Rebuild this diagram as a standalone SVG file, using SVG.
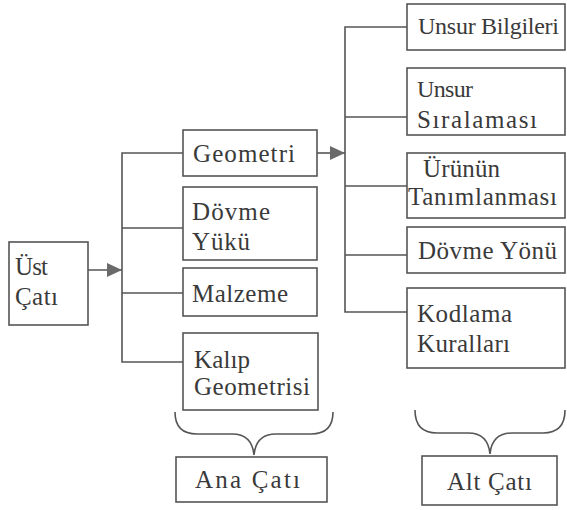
<svg xmlns="http://www.w3.org/2000/svg" width="567" height="510" viewBox="0 0 567 510">
<style>
.box{fill:#fff;stroke:#555;stroke-width:1.6}
.t{font-family:"Liberation Serif","Tinos","DejaVu Serif",serif;font-size:25px;fill:#3a3a3a}
.s{font-size:24px}
.ln{fill:none;stroke:#555;stroke-width:1.6}
.br{fill:none;stroke:#555;stroke-width:1.6}
</style>
<defs>
<marker id="ah" viewBox="0 0 10 10" refX="10" refY="5" markerWidth="15" markerHeight="14" markerUnits="userSpaceOnUse" orient="auto" preserveAspectRatio="none">
<path d="M0,0 L10,5 L0,10 z" fill="#6a6a6a"/>
</marker>
</defs>
<rect width="567" height="510" fill="#fff"/>
<g id="connectors">
<line class="ln" x1="88" y1="270" x2="122" y2="270" marker-end="url(#ah)"/>
<path class="ln" d="M183,153 H122 V362 H183 M122,228 H183 M122,293 H183"/>
<line class="ln" x1="317" y1="153" x2="345" y2="153" marker-end="url(#ah)"/>
<path class="ln" d="M407,27 H345 V312 H407 M345,117 H407 M345,186 H407 M345,255 H407"/>
</g>
<g id="ust-cati">
<rect class="box" x="9" y="242" width="79" height="83"/>
<text class="t" x="15" y="275" textLength="33" lengthAdjust="spacing">Üst</text>
<text class="t" x="15" y="305" textLength="43" lengthAdjust="spacing">Çatı</text>
</g>
<g id="geometri">
<rect class="box" x="183" y="130" width="134" height="46"/>
<text class="t" x="193" y="162" textLength="102" lengthAdjust="spacing">Geometri</text>
</g>
<g id="dovme-yuku">
<rect class="box" x="183" y="187" width="134" height="73"/>
<text class="t" x="192" y="220" textLength="78" lengthAdjust="spacing">Dövme</text>
<text class="t" x="192" y="250" textLength="58" lengthAdjust="spacing">Yükü</text>
</g>
<g id="malzeme">
<rect class="box" x="183" y="268" width="134" height="48"/>
<text class="t" x="192" y="302" textLength="96" lengthAdjust="spacing">Malzeme</text>
</g>
<g id="kalip-geometrisi">
<rect class="box" x="183" y="333" width="135" height="77"/>
<text class="t" x="194" y="368" textLength="56" lengthAdjust="spacing">Kalıp</text>
<text class="t" x="194" y="395" textLength="116" lengthAdjust="spacing">Geometrisi</text>
</g>
<g id="ana-cati">
<path class="br" d="M175,412 Q175,434 197,434 L232,434 Q252,434 254,455 Q256,434 276,434 L311,434 Q333,434 333,412"/>
<rect class="box" x="176" y="457" width="151" height="45"/>
<text class="t" x="195" y="488" textLength="105" lengthAdjust="spacing">Ana Çatı</text>
</g>
<g id="unsur-bilgileri">
<rect class="box" x="407" y="4" width="158" height="46"/>
<text class="t s" x="418" y="34" textLength="141" lengthAdjust="spacing">Unsur Bilgileri</text>
</g>
<g id="unsur-siralamasi">
<rect class="box" x="407" y="68" width="158" height="67"/>
<text class="t s" x="417" y="97" textLength="56" lengthAdjust="spacing">Unsur</text>
<text class="t" x="417" y="128" textLength="120" lengthAdjust="spacing">Sıralaması</text>
</g>
<g id="urunun-tanimlanmasi">
<rect class="box" x="407" y="153" width="158" height="65"/>
<text class="t" x="423" y="177" textLength="77" lengthAdjust="spacing">Ürünün</text>
<text class="t" x="408" y="205" textLength="149" lengthAdjust="spacing">Tanımlanması</text>
</g>
<g id="dovme-yonu">
<rect class="box" x="407" y="227" width="158" height="46"/>
<text class="t" x="418" y="259" textLength="139" lengthAdjust="spacing">Dövme Yönü</text>
</g>
<g id="kodlama-kurallari">
<rect class="box" x="407" y="288" width="158" height="80"/>
<text class="t" x="417" y="322" textLength="95" lengthAdjust="spacing">Kodlama</text>
<text class="t" x="417" y="352" textLength="93" lengthAdjust="spacing">Kuralları</text>
</g>
<g id="alt-cati">
<path class="br" d="M415,410 Q415,433 437,433 L468,433 Q488,433 490,454 Q492,433 512,433 L543,433 Q565,433 565,410"/>
<rect class="box" x="422" y="456" width="135" height="49"/>
<text class="t" x="447" y="490" textLength="85" lengthAdjust="spacing">Alt Çatı</text>
</g>
</svg>
